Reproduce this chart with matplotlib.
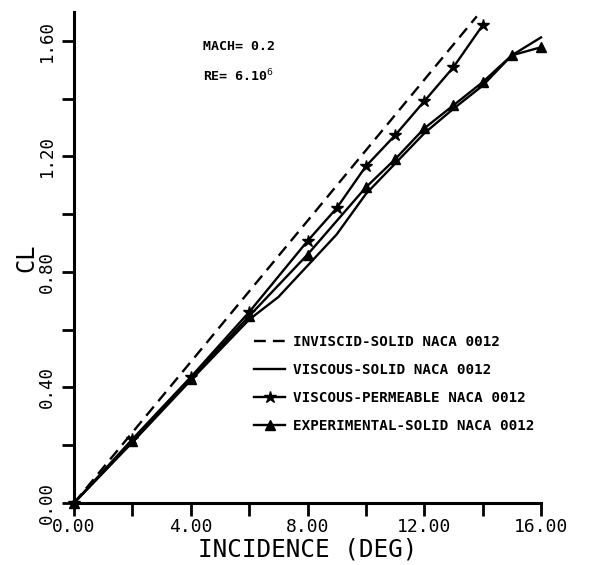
import matplotlib
matplotlib.use("Agg")
import matplotlib.pyplot as plt
from matplotlib.lines import Line2D

# ---- data ----
inviscid_x = [0.0, 13.8]
inviscid_cl = [0.0, 1.685]

visc_solid_x = [0, 2, 4, 6, 7, 9, 10, 11, 12, 13, 14, 15, 16]
visc_solid_cl = [0.0, 0.21, 0.425, 0.635, 0.713, 0.93, 1.07, 1.175, 1.28, 1.365, 1.445, 1.55, 1.612]

visc_perm_x = [0, 2, 4, 6, 8, 9, 10, 11, 12, 13, 14]
visc_perm_cl = [0.0, 0.221, 0.436, 0.661, 0.907, 1.021, 1.166, 1.273, 1.391, 1.509, 1.654]

exp_x = [0, 2, 4, 6, 8, 10, 11, 12, 13, 14, 15, 16]
exp_cl = [0.0, 0.215, 0.43, 0.647, 0.86, 1.093, 1.19, 1.297, 1.377, 1.457, 1.55, 1.578]

labels = ["INVISCID-SOLID NACA 0012", "VISCOUS-SOLID NACA 0012",
          "VISCOUS-PERMEABLE NACA 0012", "EXPERIMENTAL-SOLID NACA 0012"]

x_major = [0, 4, 8, 12, 16]
x_minor = [2, 6, 10, 14]
x_ticklabels = ["0.00", "4.00", "8.00", "12.00", "16.00"]
y_major = [0.0, 0.4, 0.8, 1.2, 1.6]
y_minor = [0.2, 0.6, 1.0, 1.4]
y_ticklabels = ["0.00", "0.40", "0.80", "1.20", "1.60"]

W, H = 597, 565
fig = plt.figure(figsize=(W / 100, H / 100), dpi=100)
ax = fig.add_axes([74 / W, 1 - 503 / H, (541 - 74) / W, (503 - 12) / H])

mono = "DejaVu Sans Mono"
lw = 1.7
ax.plot(inviscid_x, inviscid_cl, color="black", lw=lw, dashes=(5, 3), clip_on=False)
ax.plot(visc_solid_x, visc_solid_cl, color="black", lw=lw, clip_on=False)
ax.plot(visc_perm_x, visc_perm_cl, color="black", lw=lw, marker="*", ms=9, clip_on=False)
ax.plot(exp_x, exp_cl, color="black", lw=lw, marker="^", ms=6.5, clip_on=False)

ax.set_xlim(0, 16)
ax.set_ylim(0, 1.70)
for s in ["top", "right"]:
    ax.spines[s].set_visible(False)
for s in ["left", "bottom"]:
    ax.spines[s].set_linewidth(2.2)

ax.set_xticks(x_major)
ax.set_xticklabels(x_ticklabels, fontfamily=mono, fontsize=13)
ax.set_xticks(x_minor, minor=True)
ax.set_yticks(y_major)
ax.set_yticklabels(y_ticklabels, fontfamily=mono, fontsize=12.5, rotation=90, va="center")
ax.set_yticks(y_minor, minor=True)
ax.tick_params(which="both", direction="out", length=9, width=2)
ax.tick_params(axis="x", pad=2)
ax.tick_params(axis="y", pad=4)

ax.set_xlabel("INCIDENCE (DEG)", fontfamily=mono, fontsize=17.5, labelpad=1)
ax.set_ylabel("CL", fontfamily=mono, fontsize=17, labelpad=0)

fig.text(203 / W, 1 - 46 / H, "MACH= 0.2", fontfamily=mono, fontweight="bold",
         fontsize=9.5, va="center", ha="left")
fig.text(203 / W, 1 - 76 / H, r"RE= 6.10$^{6}$", fontfamily=mono, fontweight="bold",
         fontsize=9.5, va="center", ha="left")

handles = [
    Line2D([], [], color="black", lw=lw, dashes=(5, 3)),
    Line2D([], [], color="black", lw=lw),
    Line2D([], [], color="black", lw=lw, marker="*", ms=9),
    Line2D([], [], color="black", lw=lw, marker="^", ms=6.5),
]
leg = fig.legend(handles, labels, loc="upper left",
                 bbox_to_anchor=(254 / W, 1 - 335 / H), frameon=False,
                 prop={"family": mono, "weight": "bold", "size": 10.3},
                 handlelength=2.2, handletextpad=0.5, labelspacing=0.98,
                 borderaxespad=0, borderpad=0)

fig.savefig("out.png", dpi=100)
